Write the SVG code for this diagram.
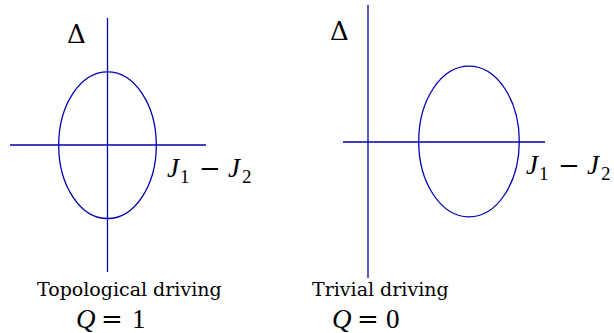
<svg xmlns="http://www.w3.org/2000/svg" width="614" height="333" viewBox="0 0 614 333">
<style>
.ax{stroke:#0000b4;stroke-width:1.3;fill:none}
.el{stroke:#0000b4;stroke-width:1.3;fill:none}
.lbl{font-family:"DejaVu Serif",serif;font-size:19px;fill:#000}
.m{font-family:"Liberation Serif",serif;font-style:italic;font-size:27px;fill:#000}
.r{font-family:"Liberation Serif",serif;font-style:normal;font-size:27px;fill:#000}
.d{font-family:"DejaVu Serif",serif;font-style:normal;font-size:26px;fill:#000}
.o{font-family:"DejaVu Serif",serif;font-style:normal;font-size:26px;fill:#000}
.s{font-family:"Liberation Serif",serif;font-style:normal;font-size:19px;fill:#000}
</style>
<rect width="614" height="333" fill="#fff"/>
<g id="connectors">
<line class="ax" x1="107.5" y1="18" x2="107.5" y2="272"/>
<line class="ax" x1="10" y1="145" x2="206" y2="145"/>
<line class="ax" x1="368" y1="5" x2="368" y2="278"/>
<line class="ax" x1="343" y1="142" x2="545" y2="142"/>
</g>
<g id="left-loop"><ellipse class="el" cx="107.5" cy="145.2" rx="48.8" ry="73.3"/></g>
<g id="right-loop"><ellipse class="el" cx="469" cy="141.5" rx="50.3" ry="75.3"/></g>
<g id="left-labels">
<text class="d" x="67" y="43">Δ</text>
<text class="m" x="167" y="177">J</text><text class="s" x="180" y="183">1</text><text class="o" x="199" y="177">−</text><text class="m" x="228" y="177">J</text><text class="s" x="242" y="183">2</text>
<text class="lbl" x="37" y="296">Topological driving</text>
<text class="m" x="76" y="328">Q</text><text class="o" x="101" y="328">=</text><text class="r" x="132" y="328">1</text>
</g>
<g id="right-labels">
<text class="d" x="330" y="40">Δ</text>
<text class="m" x="526" y="174">J</text><text class="s" x="539" y="180">1</text><text class="o" x="558" y="174">−</text><text class="m" x="587" y="174">J</text><text class="s" x="601" y="180">2</text>
<text class="lbl" x="312" y="296">Trivial driving</text>
<text class="m" x="332" y="328">Q</text><text class="o" x="357" y="328">=</text><text class="r" x="386" y="328">0</text>
</g>
</svg>
